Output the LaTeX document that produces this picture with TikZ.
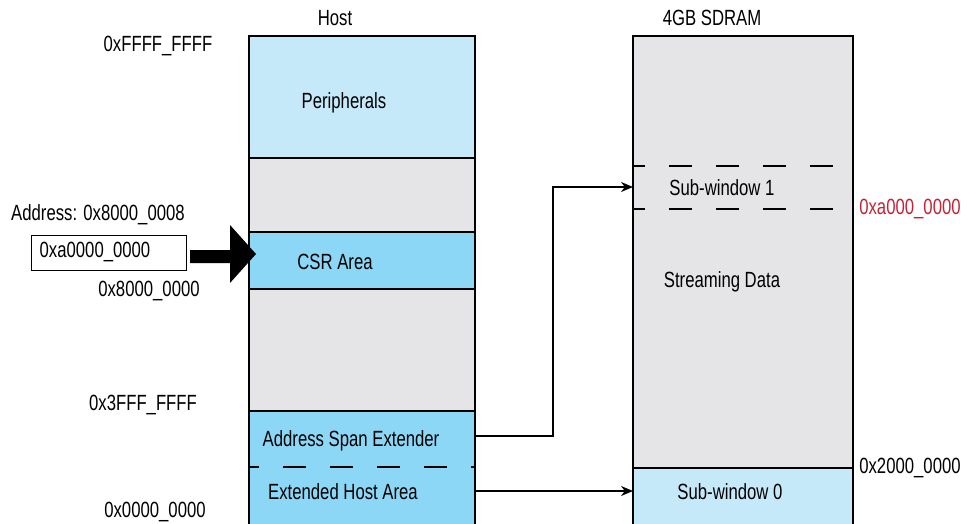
\documentclass[tikz,border=0pt]{standalone}
\usepackage{fontspec}
\setmainfont{Liberation Sans}[FakeStretch=0.76]
\usetikzlibrary{arrows.meta}
\definecolor{lb}{HTML}{C6E9F9}
\definecolor{mb}{HTML}{8DD7F6}
\definecolor{gr}{HTML}{E5E5E7}
\definecolor{rd}{HTML}{C42236}
\tikzset{
  reg/.style={rectangle, draw=black, line width=1.8pt, inner sep=0pt, outer sep=0pt, anchor=north west},
  lbl/.style={inner sep=0pt, font=\fontsize{22}{26}\selectfont},
  dsh/.style={line width=1.8pt, dash pattern=on 23pt off 24pt},
  conn/.style={line width=1.5pt, -{Stealth[length=12pt,width=10pt]}},
}
\begin{document}
\begin{tikzpicture}[x=1pt,y=-1pt]
\useasboundingbox (0,0) rectangle (967,524);
\clip (0,0) rectangle (967,524);
% Host column
\node[reg, fill=lb, minimum width=226pt, minimum height=122pt] (periph) at (249,36) {};
\node[reg, fill=gr, minimum width=226pt, minimum height=74pt] (gap1) at (249,158) {};
\node[reg, fill=mb, minimum width=226pt, minimum height=57pt] (csr) at (249,232) {};
\node[reg, fill=gr, minimum width=226pt, minimum height=122pt] (gap2) at (249,289) {};
\node[reg, fill=mb, minimum width=226pt, minimum height=56pt, draw=none] (ase) at (249,411) {};
\node[reg, fill=mb, minimum width=226pt, minimum height=70pt, draw=none] (eha) at (249,467) {};
\draw[line width=1.8pt] (ase.north west) -- (eha.south west) (ase.north east) -- (eha.south east) (ase.north west) -- (ase.north east);
\draw[dsh, dash phase=13pt] (ase.south west) -- (ase.south east);
% SDRAM column
\node[reg, fill=gr, minimum width=220pt, minimum height=432pt] (sdram) at (633,36) {};
\node[reg, fill=lb, minimum width=220pt, minimum height=70pt] (sw0) at (633,468) {};
\coordinate (sw1a) at (633,166);
\coordinate (sw1b) at (853,166);
\coordinate (sw1c) at (633,209);
\coordinate (sw1d) at (853,209);
\draw[dsh, dash phase=11pt] (sw1a) -- (sw1b);
\draw[dsh, dash phase=11pt] (sw1c) -- (sw1d);
% Labels
\node[lbl] (thost) at (335,18) {Host};
\node[lbl] (tsd) at (712,18) {4GB SDRAM};
\node[lbl] (tffff) at (158,46) {0xFFFF\_FFFF};
\node[lbl] (tper) at (344,103) {Peripherals};
\node[lbl] (taddr) at (98,215) {Address: 0x8000\_0008};
\node[rectangle, draw=black, line width=1.3pt, minimum width=155pt, minimum height=35pt, inner sep=0pt, anchor=north west] (box) at (31,235) {};
\node[lbl] (tbox) at (95,252) {0xa0000\_0000};
\node[lbl] (tcsr) at (335,262) {CSR Area};
\node[lbl] (t8000) at (149,291) {0x8000\_0000};
\node[lbl] (t3fff) at (143,405) {0x3FFF\_FFFF};
\node[lbl] (tase) at (351,441) {Address Span Extender};
\node[lbl] (teha) at (343,492) {Extended Host Area};
\node[lbl] (t0000) at (155,512) {0x0000\_0000};
\node[lbl] (tsw1) at (722,188) {Sub-window 1};
\node[lbl] (tstr) at (722,282) {Streaming Data};
\node[lbl, text=rd] (ta000) at (910,209) {0xa000\_0000};
\node[lbl] (t2000) at (910,468) {0x2000\_0000};
\node[lbl] (tsw0) at (730,492) {Sub-window 0};
% Big arrow
\fill[black] (190,250) -- (230,250) -- (230,225) -- (256,254) -- (230,283) -- (230,263) -- (190,263) -- cycle;
% Connectors
\coordinate (c1) at (553,436);
\coordinate (c2) at (553,187);
\coordinate (sw1in) at (633,187);
\coordinate (aseout) at (475,436);
\coordinate (ehaout) at (475,491);
\coordinate (sw0in) at (633,491);
\draw[conn] (aseout) -- (c1) -- (c2) -- (sw1in);
\draw[conn] (ehaout) -- (sw0in);
\end{tikzpicture}
\end{document}
